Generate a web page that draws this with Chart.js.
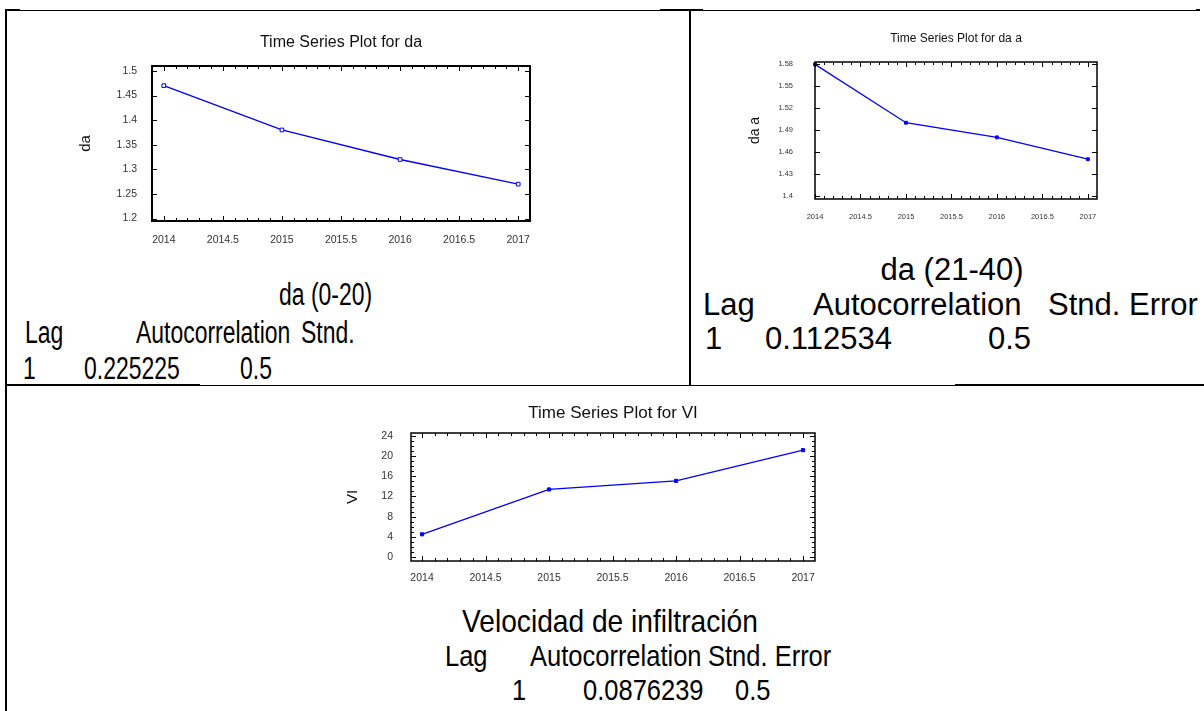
<!DOCTYPE html>
<html><head><meta charset="utf-8">
<script src="https://cdn.jsdelivr.net/npm/chart.js@4.4.1/dist/chart.umd.min.js"></script>
<style>
html,body{margin:0;padding:0;background:#fff;}
body{width:1204px;height:711px;overflow:hidden;position:relative;font-family:'Liberation Sans',Arial,sans-serif;}
.ln{position:absolute;background:#000;}
canvas{position:absolute;}
.t{position:absolute;white-space:pre;color:#000;transform-origin:0 0;}
</style></head><body>
<canvas id="c1" width="565" height="232" style="left:60px;top:20px"></canvas>
<canvas id="c2" width="500" height="222" style="left:702px;top:10px"></canvas>
<canvas id="c3" width="566" height="190" style="left:330px;top:392px"></canvas>
<div id="texts"></div>
<script>
// ---- data ----
const years = [2014, 2015, 2016, 2017];
const daValues = [1.47, 1.38, 1.32, 1.27];
const daAValues = [1.58, 1.50, 1.48, 1.45];
const viValues = [4.5, 13.4, 15.1, 21.2];
const xTickValues = [2014, 2014.5, 2015, 2015.5, 2016, 2016.5, 2017];
const xTickLabels = ['2014', '2014.5', '2015', '2015.5', '2016', '2016.5', '2017'];
const daTickValues = [1.2, 1.25, 1.3, 1.35, 1.4, 1.45, 1.5];
const daTickLabels = ['1.2', '1.25', '1.3', '1.35', '1.4', '1.45', '1.5'];
const daATickValues = [1.4, 1.43, 1.46, 1.49, 1.52, 1.55, 1.58];
const daATickLabels = ['1.4', '1.43', '1.46', '1.49', '1.52', '1.55', '1.58'];
const viTickValues = [0, 4, 8, 12, 16, 20, 24];
const viTickLabels = ['0', '4', '8', '12', '16', '20', '24'];
const chartTitles = ['Time Series Plot for da', 'Time Series Plot for da a', 'Time Series Plot for VI'];
const yAxisTitles = ['da', 'da a', 'VI'];
const tableTitles = ['da (0-20)', 'da (21-40)', 'Velocidad de infiltración'];
const tableHeads1 = ['Lag', 'Autocorrelation', 'Stnd.'];
const tableHeads2 = ['Lag', 'Autocorrelation', 'Stnd. Error'];
const lags = ['1', '1', '1'];
const autocorr = ['0.225225', '0.112534', '0.0876239'];
const stdErrors = ['0.5', '0.5', '0.5'];

// ---- frame lines ----
const lines = [
  [6,10,1194,1],[5,9,15,2],[660,9,43,2],[1196,9,4,2],
  [5,9,2,702],[689,10,2,376],
  [6,385,1198,1],[6,384,194,2],[955,384,249,2]
];
lines.forEach(l=>{const d=document.createElement('div');d.className='ln';
  d.style.cssText=`left:${l[0]}px;top:${l[1]}px;width:${l[2]}px;height:${l[3]}px`;document.body.appendChild(d);});

// ---- text ----
function place(text, x, baseline, fs, opts={}){
  const d=document.createElement('div');d.className='t';d.textContent=text;
  d.style.fontSize=fs+'px';d.style.lineHeight=fs+'px';
  const sx=opts.sx||1;
  document.getElementById('texts').appendChild(d);
  const w=d.getBoundingClientRect().width*sx;
  let left=x; if(opts.center) left=x-w/2;
  d.style.left=left+'px'; d.style.top=(baseline-0.8465*fs)+'px';
  if(sx!==1) d.style.transform=`scaleX(${sx})`;
}
const FS=31;
// left cell (narrow type)
const LS=0.74;
place(tableTitles[0],326,305,FS,{center:true,sx:LS});
place(tableHeads1[0],25,343,FS,{sx:LS});place(tableHeads1[1],136,343,FS,{sx:LS});place(tableHeads1[2],301,343,FS,{sx:LS});
place(lags[0],23,379,FS,{sx:LS});place(autocorr[0],84,379,FS,{sx:LS});place(stdErrors[0],240,379,FS,{sx:LS});
// right cell
place(tableTitles[1],952,280,FS,{center:true});
place(tableHeads2[0],703,315,FS);place(tableHeads2[1],813,315,FS);place(tableHeads2[2],1048,315,FS);
place(lags[1],705,349,FS);place(autocorr[1],765,349,FS);place(stdErrors[1],988,349,FS);
// bottom cell
const BS=0.85;
place(tableTitles[2],610,632,32,{center:true,sx:0.88});
place(tableHeads2[0],445,666,30,{sx:BS});place(tableHeads2[1],530,666,30,{sx:BS});place(tableHeads2[2],708,666,30,{sx:BS});
place(lags[2],512,700,30,{sx:BS});place(autocorr[2],583,700,30,{sx:BS});place(stdErrors[2],735,700,30,{sx:BS});

// ---- charts ----
const FONT="'Liberation Sans', Arial, sans-serif";
Chart.defaults.font.family=FONT;
const framePlugin={
  id:'frame',
  afterDraw(chart){
    const o=chart.options.plugins.frame; if(!o) return;
    const {ctx,chartArea:a,scales:{x,y}}=chart;
    ctx.save();ctx.strokeStyle='#000';ctx.lineWidth=1;
    const near=(v,arr)=>arr.some(m=>Math.abs(m-v)<1e-6);
    const xt=(v,len)=>{const p=Math.round(x.getPixelForValue(v))+0.5;ctx.beginPath();
      ctx.moveTo(p,a.bottom);ctx.lineTo(p,a.bottom-len);ctx.moveTo(p,a.top);ctx.lineTo(p,a.top+len);ctx.stroke();};
    const yt=(v,len)=>{const p=Math.round(y.getPixelForValue(v))+0.5;ctx.beginPath();
      ctx.moveTo(a.left,p);ctx.lineTo(a.left+len,p);ctx.moveTo(a.right,p);ctx.lineTo(a.right-len,p);ctx.stroke();};
    o.xMajor.forEach(v=>xt(v,o.major));o.yMajor.forEach(v=>yt(v,o.major));
    if(o.xMinor){for(let k=Math.ceil(x.min/o.xMinor);k*o.xMinor<=x.max;k++){const v=+(k*o.xMinor).toFixed(6);if(!near(v,o.xMajor))xt(v,o.minor);}}
    if(o.yMinor){for(let k=Math.ceil(y.min/o.yMinor);k*o.yMinor<=y.max;k++){const v=+(k*o.yMinor).toFixed(6);if(!near(v,o.yMajor))yt(v,o.minor);}}
    ctx.lineWidth=o.width;ctx.strokeRect(a.left,a.top,a.right-a.left,a.bottom-a.top);
    // chart title centred over the plot area
    ctx.fillStyle='#111';ctx.font=`${o.titleSize}px ${FONT}`;ctx.textAlign='center';ctx.textBaseline='middle';
    ctx.fillText(o.title,(a.left+a.right)/2,o.titleY);
    ctx.restore();
  }
};
function makeChart(id,c){
  return new Chart(document.getElementById(id),{
    type:'line',
    data:{datasets:[{data:years.map((v,i)=>({x:v,y:c.values[i]})),borderColor:'#0000ff',borderWidth:1.3,
      pointStyle:'rect',pointRadius:c.pr,pointBorderWidth:1,pointBorderColor:'#0000ff',pointBackgroundColor:c.pfill,
      tension:0,clip:false}]},
    options:{
      responsive:false,animation:false,devicePixelRatio:1,
      layout:{padding:{left:0,right:c.padRight,top:c.padTop,bottom:0}},
      plugins:{legend:{display:false},tooltip:{enabled:false},title:{display:false},
        frame:{xMajor:xTickValues,yMajor:c.yTicks,xMinor:0.1,yMinor:c.yMinor,major:5,minor:3,width:c.frameW,
          title:c.title,titleSize:c.titleSize,titleY:c.titleY}},
      scales:{
        x:{type:'linear',min:c.xmin,max:c.xmax,grid:{display:false},border:{display:false},
          ticks:{font:{size:c.tickSize},color:'#333',padding:c.xPad,maxRotation:0,autoSkip:false,callback:(v,i)=>xTickLabels[i]},
          afterBuildTicks:s=>{s.ticks=xTickValues.map(v=>({value:v}));},
          afterFit:s=>{s.height=c.xH;}},
        y:{type:'linear',min:c.ymin,max:c.ymax,grid:{display:false},border:{display:false},
          ticks:{font:{size:c.tickSize},color:'#333',padding:c.yPad,autoSkip:false,callback:(v,i)=>c.yLabels[i]},
          afterBuildTicks:s=>{s.ticks=c.yTicks.map(v=>({value:v}));},
          afterFit:s=>{s.width=c.yW;},
          title:{display:true,text:c.yTitle,color:'#111',font:{size:c.yTitleSize},padding:{top:c.yTitleTop,bottom:0}}}
      }
    },
    plugins:[framePlugin]
  });
}
makeChart('c1',{values:daValues,title:chartTitles[0],titleSize:16,titleY:23,padTop:46,
  xmin:2013.9,xmax:2017.1,ymin:1.195,ymax:1.51,yTicks:daTickValues,yLabels:daTickLabels,yMinor:0,
  tickSize:10.5,xPad:5,yPad:7,xH:31,yW:92,padRight:95,yTitle:yAxisTitles[0],yTitleSize:15,yTitleTop:17,
  pr:2.6,pfill:'#ffffff',frameW:2});
makeChart('c2',{values:daAValues,title:chartTitles[1],titleSize:12,titleY:29,padTop:52,
  xmin:2014,xmax:2017.1,ymin:1.3955,ymax:1.5832,yTicks:daATickValues,yLabels:daATickLabels,yMinor:0,
  tickSize:7.5,xPad:5,yPad:14,xH:33,yW:113,padRight:105,yTitle:yAxisTitles[1],yTitleSize:14,yTitleTop:44.6,
  pr:2,pfill:'#0000ff',frameW:1.5});
makeChart('c3',{values:viValues,title:chartTitles[2],titleSize:17,titleY:21,padTop:41,
  xmin:2013.913,xmax:2017.094,ymin:-0.8,ymax:24.6,yTicks:viTickValues,yLabels:viTickLabels,yMinor:1,
  tickSize:10.5,xPad:3,yPad:10,xH:21,yW:81,padRight:81,yTitle:yAxisTitles[2],yTitleSize:15,yTitleTop:14,
  pr:2.2,pfill:'#0000ff',frameW:1.5});
</script>
</body></html>
